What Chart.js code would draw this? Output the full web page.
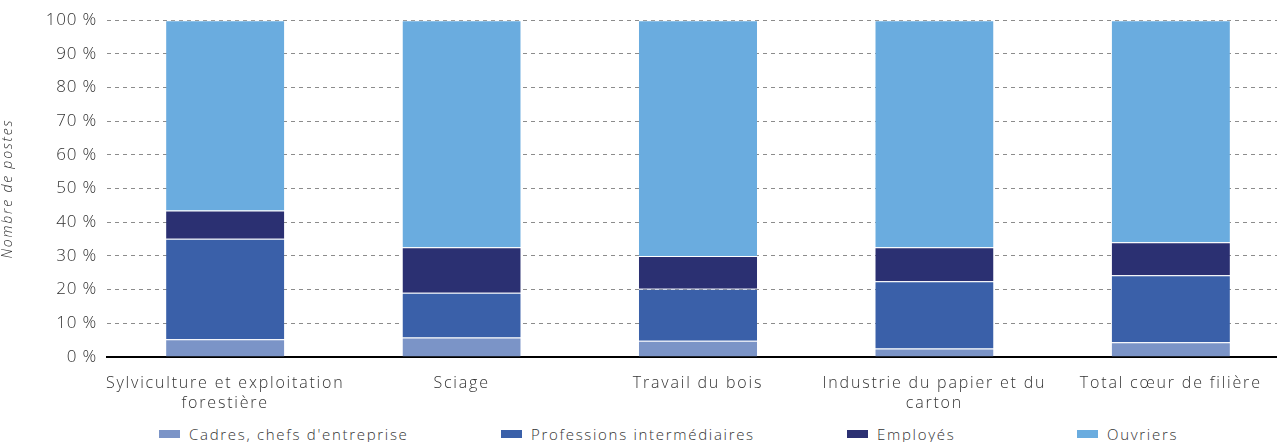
<!DOCTYPE html>
<html>
<head>
<meta charset="utf-8">
<script src="https://cdn.jsdelivr.net/npm/chart.js@4"></script>
<style>
  html, body { margin: 0; padding: 0; background: #fff; }
  #wrap { position: relative; width: 1277px; height: 442px; overflow: hidden; }
  #chart { position: absolute; left: 0; top: 0; }
  #legend { position: absolute; left: 0; top: 424px; width: 1277px; height: 18px;
            font-family: "Open Sans", sans-serif; font-size: 15px; font-weight: 300;
            letter-spacing: 1.7px; color: #333; }
  #legend .item { position: absolute; top: 0; display: flex; align-items: center; white-space: nowrap; }
  #legend .box { width: 21px; height: 8px; margin-right: 9px; }
</style>
</head>
<body>
<div id="wrap">
  <canvas id="chart" width="1289" height="418"></canvas>
  <div id="legend"></div>
</div>
<script>
"use strict";

// categories (multi-line labels)
var categories = [
    ["Sylviculture et exploitation", "forestière"],
    ["Sciage"],
    ["Travail du bois"],
    ["Industrie du papier et du", "carton"],
    ["Total cœur de filière"]
];

// share of jobs per socio-professional group, in %
var cadres = [5.3, 5.8, 4.8, 2.5, 4.4];
var professions = [29.8, 13.3, 15.5, 20.0, 19.9];
var employes = [8.4, 13.5, 9.7, 10.1, 9.8];
var ouvriers = [56.5, 67.4, 70.0, 67.4, 65.9];

var yTicks = [0, 10, 20, 30, 40, 50, 60, 70, 80, 90, 100];

var seriesNames = ["Cadres, chefs d'entreprise", "Professions intermédiaires", "Employés", "Ouvriers"];
var COLORS = ['#7b94c7', '#3a60a9', '#2b3072', '#6aacdf'];
var legendLeft = [159, 501, 847, 1077];

var FONT = "'Open Sans', sans-serif";
var SPACING = '1.8px';
var Y_TICK_SPACING = '0.8px';

// canvas letterSpacing is reset on resize, so put it back before layout and draw;
// the y tick labels get a tighter spacing than the rest
var spacingPlugin = {
    id: 'spacing',
    beforeLayout: function (chart) { chart.ctx.letterSpacing = SPACING; },
    beforeDraw: function (chart) { chart.ctx.letterSpacing = SPACING; },
    afterLayout: function (chart) {
        var y = chart.scales.y;
        if (y && !y._spacingWrapped) {
            var drawLabels = y.drawLabels;
            y.drawLabels = function () {
                var c = this.ctx;
                c.letterSpacing = Y_TICK_SPACING;
                drawLabels.apply(this, arguments);
                c.letterSpacing = SPACING;
            };
            y._spacingWrapped = true;
        }
    }
};

function makeDataset(idx, data) {
    return {
        label: seriesNames[idx],
        data: data,
        backgroundColor: COLORS[idx],
        borderColor: 'rgba(255,255,255,0.3)',
        borderWidth: { top: 1, left: 0, right: 0, bottom: 0 },
        borderSkipped: false,
        categoryPercentage: 0.5,
        barPercentage: 1.0
    };
}

var ctx = document.getElementById('chart').getContext('2d');
var chart = new Chart(ctx, {
    type: 'bar',
    data: {
        labels: categories,
        datasets: [
            makeDataset(0, cadres),
            makeDataset(1, professions),
            makeDataset(2, employes),
            makeDataset(3, ouvriers)
        ]
    },
    plugins: [spacingPlugin],
    options: {
        responsive: false,
        animation: false,
        layout: { padding: { top: 10, right: 0, left: 0, bottom: 0 } },
        plugins: {
            legend: { display: false },
            tooltip: { enabled: false }
        },
        scales: {
            x: {
                stacked: true,
                grid: { display: false, drawTicks: false },
                border: { display: true, color: '#000', width: 2 },
                ticks: {
                    color: '#333',
                    font: { family: FONT, size: 16, weight: 300, lineHeight: 1.25 },
                    padding: 16,
                    maxRotation: 0,
                    autoSkip: false
                },
                afterFit: function (scale) { scale.height = 61; }
            },
            y: {
                stacked: true,
                min: 0,
                max: 100,
                afterBuildTicks: function (scale) {
                    scale.ticks = yTicks.map(function (v) { return { value: v }; });
                },
                grid: {
                    color: '#8c8c8c',
                    lineWidth: 1,
                    drawTicks: false
                },
                border: { display: false, dash: [4, 4] },
                ticks: {
                    color: '#333',
                    font: { family: FONT, size: 17, weight: 300 },
                    padding: 10,
                    callback: function (v) { return v + ' %'; }
                },
                title: {
                    display: true,
                    text: 'Nombre de postes',
                    color: '#333',
                    font: { family: FONT, size: 14, weight: 300, style: 'italic' },
                    padding: { top: 0, bottom: 4 }
                },
                afterFit: function (scale) { scale.width = 107; }
            }
        }
    }
});
chart.draw();

// legend row
var legend = document.getElementById('legend');
for (var i = 0; i < seriesNames.length; i++) {
    var item = document.createElement('div');
    item.className = 'item';
    item.style.left = legendLeft[i] + 'px';
    var box = document.createElement('span');
    box.className = 'box';
    box.style.background = COLORS[i];
    var txt = document.createElement('span');
    txt.textContent = seriesNames[i];
    item.appendChild(box);
    item.appendChild(txt);
    legend.appendChild(item);
}
</script>
</body>
</html>
